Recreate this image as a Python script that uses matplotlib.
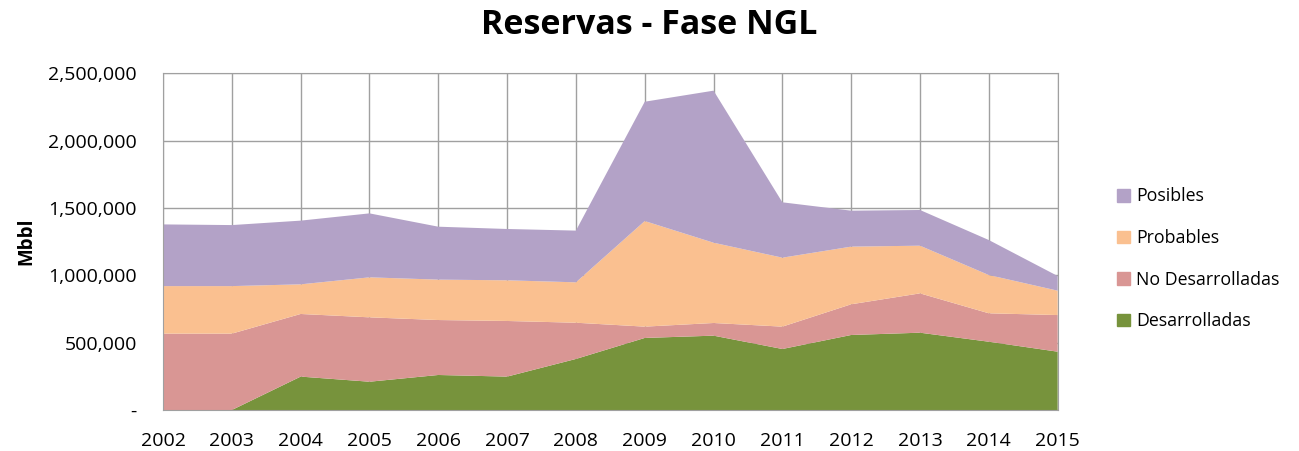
import numpy as np
import matplotlib
matplotlib.use('Agg')
import matplotlib.pyplot as plt
from matplotlib.ticker import FuncFormatter
from matplotlib.patches import Patch

years = [2002, 2003, 2004, 2005, 2006, 2007, 2008, 2009, 2010, 2011, 2012, 2013, 2014, 2015]
# Mbbl (each layer on its own, not cumulative)
desarrolladas = [0, 0, 248000, 210000, 260000, 248000, 379000, 535000, 552000, 453000, 557000, 574000, 507000, 433000]
no_desarrolladas = [567000, 567000, 465000, 478000, 408000, 413000, 269000, 84000, 94000, 166000, 228000, 292000, 211000, 272000]
probables = [353000, 353000, 220000, 297000, 300000, 302000, 300000, 784000, 596000, 512000, 428000, 354000, 284000, 181000]
posibles = [458000, 453000, 473000, 475000, 393000, 381000, 384000, 886000, 1129000, 411000, 267000, 265000, 260000, 109000]

names = ['Desarrolladas', 'No Desarrolladas', 'Probables', 'Posibles']
colors = ['#77933C', '#D99694', '#FAC090', '#B3A2C7']

plt.rcParams['font.family'] = ['Open Sans', 'DejaVu Sans']

fig = plt.figure(figsize=(12.99, 4.51), dpi=100)
ax = fig.add_axes([0.1255, 0.0909, 0.6887, 0.7466])

ax.stackplot(years, desarrolladas, no_desarrolladas, probables, posibles,
             colors=colors, zorder=2, linewidth=0)

ax.set_xlim(2002, 2015)
ax.set_ylim(0, 2500000)
ax.set_xticks(years)
ax.set_yticks(np.arange(0, 2500001, 500000))
ax.yaxis.set_major_formatter(FuncFormatter(lambda v, p: '-' if v == 0 else '{:,.0f}'.format(v)))
ax.grid(True, color='#A0A0A0', linewidth=1, zorder=1)
ax.set_axisbelow(True)
for s in ax.spines.values():
    s.set_color('#A0A0A0')
ax.tick_params(length=0, labelsize=14, colors='black')
ax.tick_params(axis='x', pad=16)
ax.tick_params(axis='y', pad=19)

ax.set_ylabel('Mbbl', fontsize=13.5, fontweight='bold', labelpad=8)
fig.suptitle('Reservas - Fase NGL', fontsize=24.5, fontweight='bold', y=0.983)

handles = [Patch(color=c, label=n) for c, n in zip(colors, names)][::-1]
fig.legend(handles=handles, loc='center left', bbox_to_anchor=(0.8474, 0.426),
           frameon=False, fontsize=12.8, handlelength=0.72, handleheight=0.72,
           labelspacing=1.33, handletextpad=0.35)

plt.savefig('out.png', dpi=100)
